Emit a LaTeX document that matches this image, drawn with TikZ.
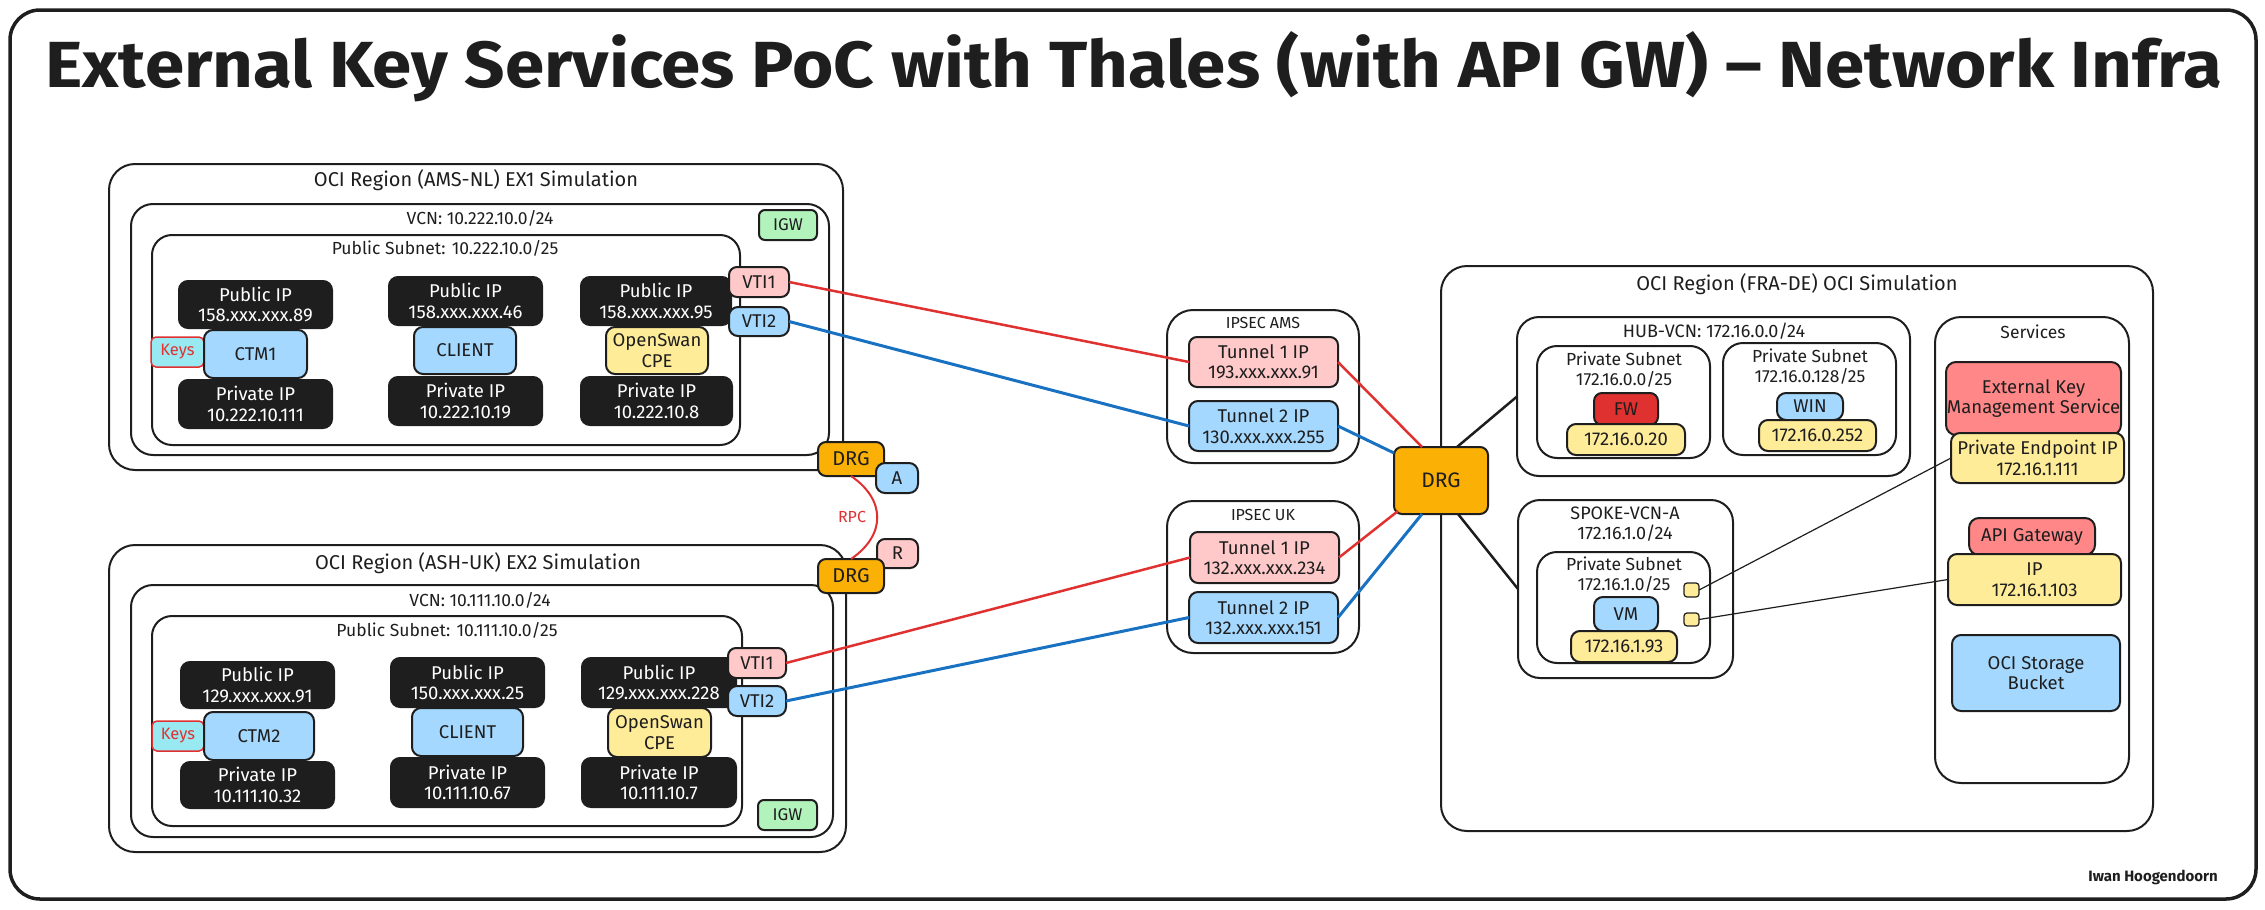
\documentclass[tikz,border=0pt]{standalone}
\usepackage{fontspec}
\setmainfont{Fira Sans}
\usepackage{graphicx}
\usetikzlibrary{calc}
\definecolor{ink}{HTML}{1E1E1E}
\definecolor{cblue}{HTML}{A5D8FF}
\definecolor{cpink}{HTML}{FFC9C9}
\definecolor{cyel}{HTML}{FFEC99}
\definecolor{cgreen}{HTML}{B2F2BB}
\definecolor{corange}{HTML}{FAB005}
\definecolor{cred}{HTML}{E03131}
\definecolor{csalmon}{HTML}{FF8787}
\definecolor{ccyan}{HTML}{99E9F2}
\definecolor{lblue}{HTML}{1971C2}
\newcommand\mybox[7]{\node[#1, minimum width={(#5)-(#3)}, minimum height={(#6)-(#4)}] (#2) at ({((#3)+(#5))/2},{((#4)+(#6))/2}) {#7};}
\tikzset{
  base/.style={draw=ink, line width=2pt, inner sep=0pt, outer sep=0pt, align=center, text=ink, font=\fontsize{18.5}{20.5}\selectfont},
  frame/.style={base, line width=3.5pt, rounded corners=30pt},
  region/.style={base, rounded corners=26pt},
  vcnbox/.style={base, rounded corners=22pt},
  subnetbox/.style={base, rounded corners=20pt},
  blk/.style={base, fill=ink, text=white, rounded corners=9pt},
  bluebox/.style={base, fill=cblue, rounded corners=9pt},
  pinkbox/.style={base, fill=cpink, rounded corners=8pt},
  yelbox/.style={base, fill=cyel, rounded corners=9pt},
  greenbox/.style={base, fill=cgreen, rounded corners=6pt, font=\fontsize{17}{19}\selectfont},
  orangebox/.style={base, fill=corange, rounded corners=8pt, font=\fontsize{20}{22}\selectfont},
  redbox/.style={base, fill=cred, rounded corners=8pt},
  salmonbox/.style={base, fill=csalmon, rounded corners=10pt},
  keysbox/.style={base, draw=cred, line width=1.5pt, fill=ccyan, text=cred, rounded corners=5pt, font=\fontsize{16.5}{18}\selectfont},
  sqbox/.style={base, line width=1.2pt, fill=cyel, rounded corners=3pt},
  lbl/.style={inner sep=0pt, text=ink, align=center, font=\fontsize{17.5}{20}\selectfont},
  rlbl/.style={lbl, font=\fontsize{20}{22}\selectfont},
  redline/.style={draw=cred, line width=2.5pt},
  blueline/.style={draw=lblue, line width=3pt},
  blackline/.style={draw=ink, line width=2.5pt},
  thinline/.style={draw=ink, line width=1.2pt}
}
\begin{document}
\begin{tikzpicture}[x=1pt,y=-1pt]
\useasboundingbox (0,0) rectangle (2265,910);
\mybox{frame}{frame}{10}{10}{2256}{899}{}
\node[anchor=base, text=ink, inner sep=0pt] (title) at (1134,87) {\resizebox{2176pt}{56pt}{\bfseries External Key Services PoC with Thales (with API GW) – Network Infra}};

% ---------------- AMS region
\mybox{region}{ams}{109}{164}{843}{470}{}
\node[rlbl] (amsT) at (476,180) {OCI Region (AMS-NL) EX1 Simulation};
\mybox{vcnbox}{amsV}{131}{204}{829}{455}{}
\node[lbl] (amsVT) at (480,218) {VCN: 10.222.10.0/24};
\mybox{greenbox}{amsIGW}{759}{210}{817}{240}{IGW}
\mybox{subnetbox}{amsS}{152}{235}{740}{445}{}
\node[lbl] (amsST) at (445,248) {Public Subnet: 10.222.10.0/25};
\mybox{blk}{a1pub}{179}{281}{332}{328}{Public IP\\158.xxx.xxx.89}
\mybox{keysbox}{a1keys}{151}{337}{204}{367}{Keys}
\mybox{bluebox}{a1ctm}{204}{330}{307}{378}{CTM1}
\mybox{blk}{a1priv}{179}{380}{332}{428}{Private IP\\10.222.10.111}
\mybox{blk}{a2pub}{389}{277}{542}{325}{Public IP\\158.xxx.xxx.46}
\mybox{bluebox}{a2cli}{414}{327}{516}{374}{CLIENT}
\mybox{blk}{a2priv}{389}{377}{542}{425}{Private IP\\10.222.10.19}
\mybox{blk}{a3pub}{581}{277}{731}{325}{Public IP\\158.xxx.xxx.95}
\mybox{yelbox}{a3cpe}{606}{327}{708}{374}{OpenSwan\\CPE}
\mybox{blk}{a3priv}{581}{377}{732}{425}{Private IP\\10.222.10.8}
\mybox{pinkbox}{vti1a}{729}{267}{789}{297}{VTI1}
\mybox{bluebox}{vti2a}{729}{307}{789}{336}{VTI2}

% ---------------- ASH region
\mybox{region}{ash}{109}{545}{846}{852}{}
\node[rlbl] (ashT) at (478,563) {OCI Region (ASH-UK) EX2 Simulation};
\mybox{vcnbox}{ashV}{131}{585}{833}{837}{}
\node[lbl] (ashVT) at (480,600) {VCN: 10.111.10.0/24};
\mybox{subnetbox}{ashS}{152}{616}{742}{826}{}
\node[lbl] (ashST) at (447,630) {Public Subnet: 10.111.10.0/25};
\mybox{blk}{u1pub}{181}{662}{334}{708}{Public IP\\129.xxx.xxx.91}
\mybox{keysbox}{u1keys}{152}{721}{204}{751}{Keys}
\mybox{bluebox}{u1ctm}{204}{712}{314}{760}{CTM2}
\mybox{blk}{u1priv}{181}{762}{334}{808}{Private IP\\10.111.10.32}
\mybox{blk}{u2pub}{391}{658}{544}{707}{Public IP\\150.xxx.xxx.25}
\mybox{bluebox}{u2cli}{412}{708}{523}{756}{CLIENT}
\mybox{blk}{u2priv}{391}{758}{544}{807}{Private IP\\10.111.10.67}
\mybox{blk}{u3pub}{582}{658}{736}{707}{Public IP\\129.xxx.xxx.228}
\mybox{yelbox}{u3cpe}{608}{708}{711}{757}{OpenSwan\\CPE}
\mybox{blk}{u3priv}{582}{758}{736}{807}{Private IP\\10.111.10.7}
\mybox{pinkbox}{vti1u}{728}{648}{786}{678}{VTI1}
\mybox{bluebox}{vti2u}{728}{686}{786}{716}{VTI2}
\mybox{greenbox}{ashIGW}{758}{800}{817}{830}{IGW}

% ---------------- DRGs with RPC
\mybox{orangebox}{drgA}{818}{442}{884}{476}{DRG}
\mybox{bluebox}{attA}{876}{463}{918}{493}{A}
\mybox{pinkbox}{attR}{877}{539}{918}{568}{R}
\mybox{orangebox}{drgB}{818}{559}{884}{593}{DRG}
\draw[draw=cred, line width=2pt] (drgA.south) .. controls (886,500) and (886,535) .. (drgB.north);
\node[lbl, text=cred, font=\fontsize{16}{18}\selectfont] (rpc) at (852,517) {RPC};

% ---------------- IPSEC
\mybox{region}{ipa}{1167}{310}{1359}{463}{}
\node[lbl, font=\fontsize{16}{18}\selectfont] (ipaT) at (1263,323) {IPSEC AMS};
\mybox{pinkbox}{t1a}{1189}{337}{1338}{387}{Tunnel 1 IP\\193.xxx.xxx.91}
\mybox{bluebox}{t2a}{1189}{401}{1338}{451}{Tunnel 2 IP\\130.xxx.xxx.255}
\mybox{region}{ipu}{1167}{501}{1359}{653}{}
\node[lbl, font=\fontsize{16}{18}\selectfont] (ipuT) at (1263,515) {IPSEC UK};
\mybox{pinkbox}{t1u}{1190}{532}{1339}{583}{Tunnel 1 IP\\132.xxx.xxx.234}
\mybox{bluebox}{t2u}{1189}{592}{1338}{643}{Tunnel 2 IP\\132.xxx.xxx.151}

% ---------------- FRA region
\mybox{region}{fra}{1441}{266}{2153}{831}{}
\node[rlbl] (fraT) at (1797,284) {OCI Region (FRA-DE) OCI Simulation};
\mybox{vcnbox}{hub}{1517}{317}{1910}{476}{}
\node[lbl, font=\fontsize{18}{20}\selectfont] (hubT) at (1714,331) {HUB-VCN: 172.16.0.0/24};
\mybox{subnetbox}{ps1}{1537}{346}{1710}{458}{}
\node[lbl] (ps1T) at (1624,370) {Private Subnet\\172.16.0.0/25};
\mybox{redbox}{fw}{1594}{393}{1658}{425}{FW}
\mybox{yelbox}{ip020}{1567}{424}{1685}{455}{172.16.0.20}
\mybox{subnetbox}{ps2}{1723}{343}{1896}{455}{}
\node[lbl] (ps2T) at (1810,367) {Private Subnet\\172.16.0.128/25};
\mybox{bluebox}{win}{1777}{393}{1843}{420}{WIN}
\mybox{yelbox}{ip252}{1759}{420}{1876}{451}{172.16.0.252}

\mybox{vcnbox}{spoke}{1518}{500}{1733}{678}{}
\node[lbl, font=\fontsize{18}{20}\selectfont] (spokeT) at (1625,524) {SPOKE-VCN-A\\172.16.1.0/24};
\mybox{subnetbox}{ps3}{1537}{552}{1710}{663}{}
\node[lbl] (ps3T) at (1624,575) {Private Subnet\\172.16.1.0/25};
\mybox{bluebox}{vm}{1594}{597}{1658}{631}{VM}
\mybox{yelbox}{ip93}{1571}{631}{1677}{662}{172.16.1.93}
\mybox{sqbox}{sq1}{1684}{583}{1699}{597}{}
\mybox{sqbox}{sq2}{1684}{613}{1699}{626}{}

\mybox{region}{svc}{1935}{317}{2129}{783}{}
\node[lbl] (svcT) at (2033,332) {Services};
\mybox{salmonbox}{ekm}{1946}{362}{2121}{435}{External Key\\Management Service}
\mybox{yelbox}{pe}{1951}{433}{2124}{483}{Private Endpoint IP\\172.16.1.111}
\mybox{salmonbox}{api}{1969}{518}{2095}{555}{API Gateway}
\mybox{yelbox}{apiip}{1948}{554}{2121}{605}{IP\\172.16.1.103}
\mybox{bluebox}{bucket}{1952}{635}{2120}{711}{OCI Storage\\Bucket}

% ---------------- central DRG
\mybox{orangebox}{drg}{1394}{447}{1488}{514}{\fontsize{21}{23}\selectfont DRG}

% ---------------- connectors
\draw[redline] (vti1a.east) -- (t1a.west);
\draw[blueline] (vti2a.east) -- (t2a.west);
\draw[redline] (vti1u.east) -- (t1u.west);
\draw[blueline] (vti2u.east) -- (t2u.west);
\draw[redline] (t1a.east) -- ([xshift=28pt]drg.north west);
\draw[blueline] (t2a.east) -- ([yshift=-6pt]drg.north west);
\draw[redline] (t1u.east) -- ([xshift=4pt,yshift=3pt]drg.south west);
\draw[blueline] (t2u.east) -- ([xshift=28pt]drg.south west);
\draw[blackline] ([xshift=-31pt]drg.north east) -- (hub.west);
\draw[blackline] ([xshift=-30pt]drg.south east) -- (spoke.west);
\draw[thinline] (sq1.east) -- (pe.west);
\draw[thinline] (sq2.east) -- (apiip.west);

\node[anchor=base east, inner sep=0pt, text=ink, font=\bfseries\fontsize{15}{17}\selectfont] (author) at (2218,881) {Iwan Hoogendoorn};
\end{tikzpicture}
\end{document}
